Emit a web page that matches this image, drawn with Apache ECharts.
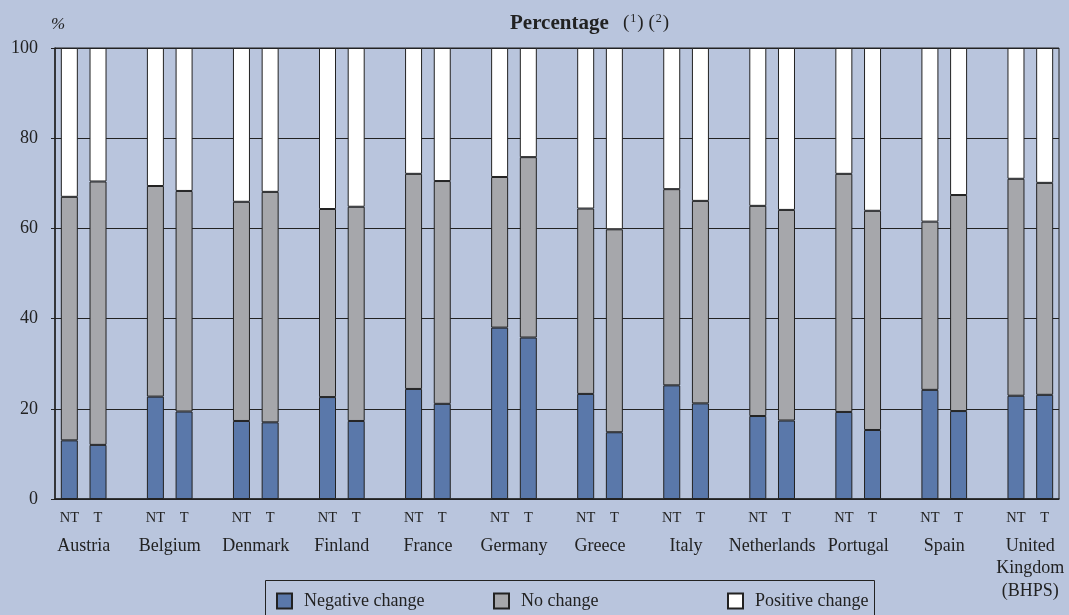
<!DOCTYPE html>
<html>
<head>
<meta charset="utf-8">
<script src="https://cdn.jsdelivr.net/npm/echarts@6/dist/echarts.min.js"></script>
<style>
  html, body { margin: 0; padding: 0; background: #b9c5dd; }
  #chart { width: 1069px; height: 615px; }
</style>
</head>
<body>
<div id="chart"></div>
<script>
// countries, each has a NT and a T bar
var countries = ['Austria', 'Belgium', 'Denmark', 'Finland', 'France', 'Germany', 'Greece',
    'Italy', 'Netherlands', 'Portugal', 'Spain', 'United\nKingdom\n(BHPS)'];
var groups = ['NT', 'T'];

// values in pairs: NT, T per country
var negative = [13.0, 12.0, 22.7, 19.4, 17.3, 17.0, 22.6, 17.3, 24.4, 21.1, 38.0, 35.8,
    23.3, 14.8, 25.2, 21.2, 18.4, 17.4, 19.3, 15.3, 24.2, 19.5, 22.9, 23.1];
var noChange = [54.0, 58.4, 46.7, 48.9, 48.6, 51.1, 41.7, 47.5, 47.7, 49.4, 33.4, 40.0,
    41.1, 45.0, 43.5, 44.9, 46.6, 46.7, 52.8, 48.6, 37.3, 47.9, 48.1, 47.0];
var positive = [33.0, 29.6, 30.6, 31.7, 34.1, 31.9, 35.7, 35.2, 27.9, 29.5, 28.6, 24.2,
    35.6, 40.2, 31.3, 33.9, 35.0, 35.9, 27.9, 36.1, 38.5, 32.6, 29.0, 29.9];

var yTicks = [0, 20, 40, 60, 80, 100];

var font = 'Liberation Serif';
var ink = '#222';

// slots: NT, T, empty gap between countries
var slots = [];
countries.forEach(function (c, i) {
    slots.push(groups[0], groups[1]);
    if (i < countries.length - 1) slots.push('');
});

function spread(vals) {
    var out = [];
    countries.forEach(function (c, i) {
        out.push(vals[2 * i], vals[2 * i + 1]);
        if (i < countries.length - 1) out.push('-');
    });
    return out;
}

function bar(name, vals, color) {
    return {
        name: name,
        type: 'bar',
        stack: 'all',
        barWidth: 17,
        data: spread(vals),
        itemStyle: {color: color, borderColor: ink, borderWidth: 1},
        emphasis: {disabled: true}
    };
}

function legendAt(name, left) {
    return {
        data: [name],
        left: left,
        top: 587,
        icon: 'rect',
        itemWidth: 15,
        itemHeight: 15,
        selectedMode: false,
        textStyle: {fontFamily: font, fontSize: 18, color: ink, padding: [0, 0, 0, 7]}
    };
}

var myChart = echarts.init(document.getElementById('chart'));
var option = {
    backgroundColor: '#b9c5dd',
    animation: false,
    title: {
        text: '{b|Percentage}   ({s|1}) ({s|2})',
        left: 505,
        top: 8,
        textStyle: {
            fontFamily: font, fontSize: 19, color: ink, fontWeight: 'normal',
            rich: {
                b: {fontFamily: font, fontSize: 21, fontWeight: 'bold', color: ink},
                s: {fontFamily: font, fontSize: 12, color: ink, verticalAlign: 'top', padding: [0, 1, 7, 1]}
            }
        }
    },
    legend: [
        legendAt('Negative change', 271),
        legendAt('No change', 488),
        legendAt('Positive change', 722)
    ],
    graphic: [{
        type: 'rect',
        silent: true,
        shape: {x: 265.5, y: 580.5, width: 609, height: 50},
        style: {fill: 'none', stroke: ink, lineWidth: 1}
    }],
    grid: {
        left: 55, right: 10, top: 48, bottom: 116,
        show: true, borderColor: ink, borderWidth: 1, backgroundColor: 'transparent'
    },
    xAxis: [{
        type: 'category',
        data: slots,
        axisLine: {lineStyle: {color: ink, width: 1.5}},
        axisTick: {show: false},
        axisLabel: {interval: 0, fontFamily: font, fontSize: 14.5, color: ink, margin: 12}
    }, {
        type: 'value',
        position: 'bottom',
        offset: 0,
        min: 0,
        max: slots.length,
        interval: 1,
        axisLine: {show: false},
        axisTick: {show: false},
        splitLine: {show: false},
        axisLabel: {
            fontFamily: font, fontSize: 18, color: ink, margin: 36, lineHeight: 22.5,
            verticalAlign: 'top', showMinLabel: true, showMaxLabel: true,
            formatter: function (v) {
                var k = Math.round(v);
                return k % 3 === 1 ? countries[(k - 1) / 3] : '';
            }
        }
    }],
    yAxis: {
        type: 'value',
        min: yTicks[0],
        max: yTicks[yTicks.length - 1],
        interval: yTicks[1] - yTicks[0],
        name: '%',
        nameGap: 15,
        nameTextStyle: {fontFamily: font, fontStyle: 'italic', fontSize: 17, color: ink, padding: [0, 0, 0, 6]},
        axisLine: {show: true, lineStyle: {color: ink, width: 1.5}},
        axisTick: {show: true, length: 4, lineStyle: {color: ink}},
        axisLabel: {fontFamily: font, fontSize: 18, color: ink, margin: 17},
        splitLine: {lineStyle: {color: ink, width: 1}}
    },
    series: [
        bar('Negative change', negative, '#5a78aa'),
        bar('No change', noChange, '#a6a7ab'),
        bar('Positive change', positive, '#ffffff')
    ]
};
myChart.setOption(option);
</script>
</body>
</html>
